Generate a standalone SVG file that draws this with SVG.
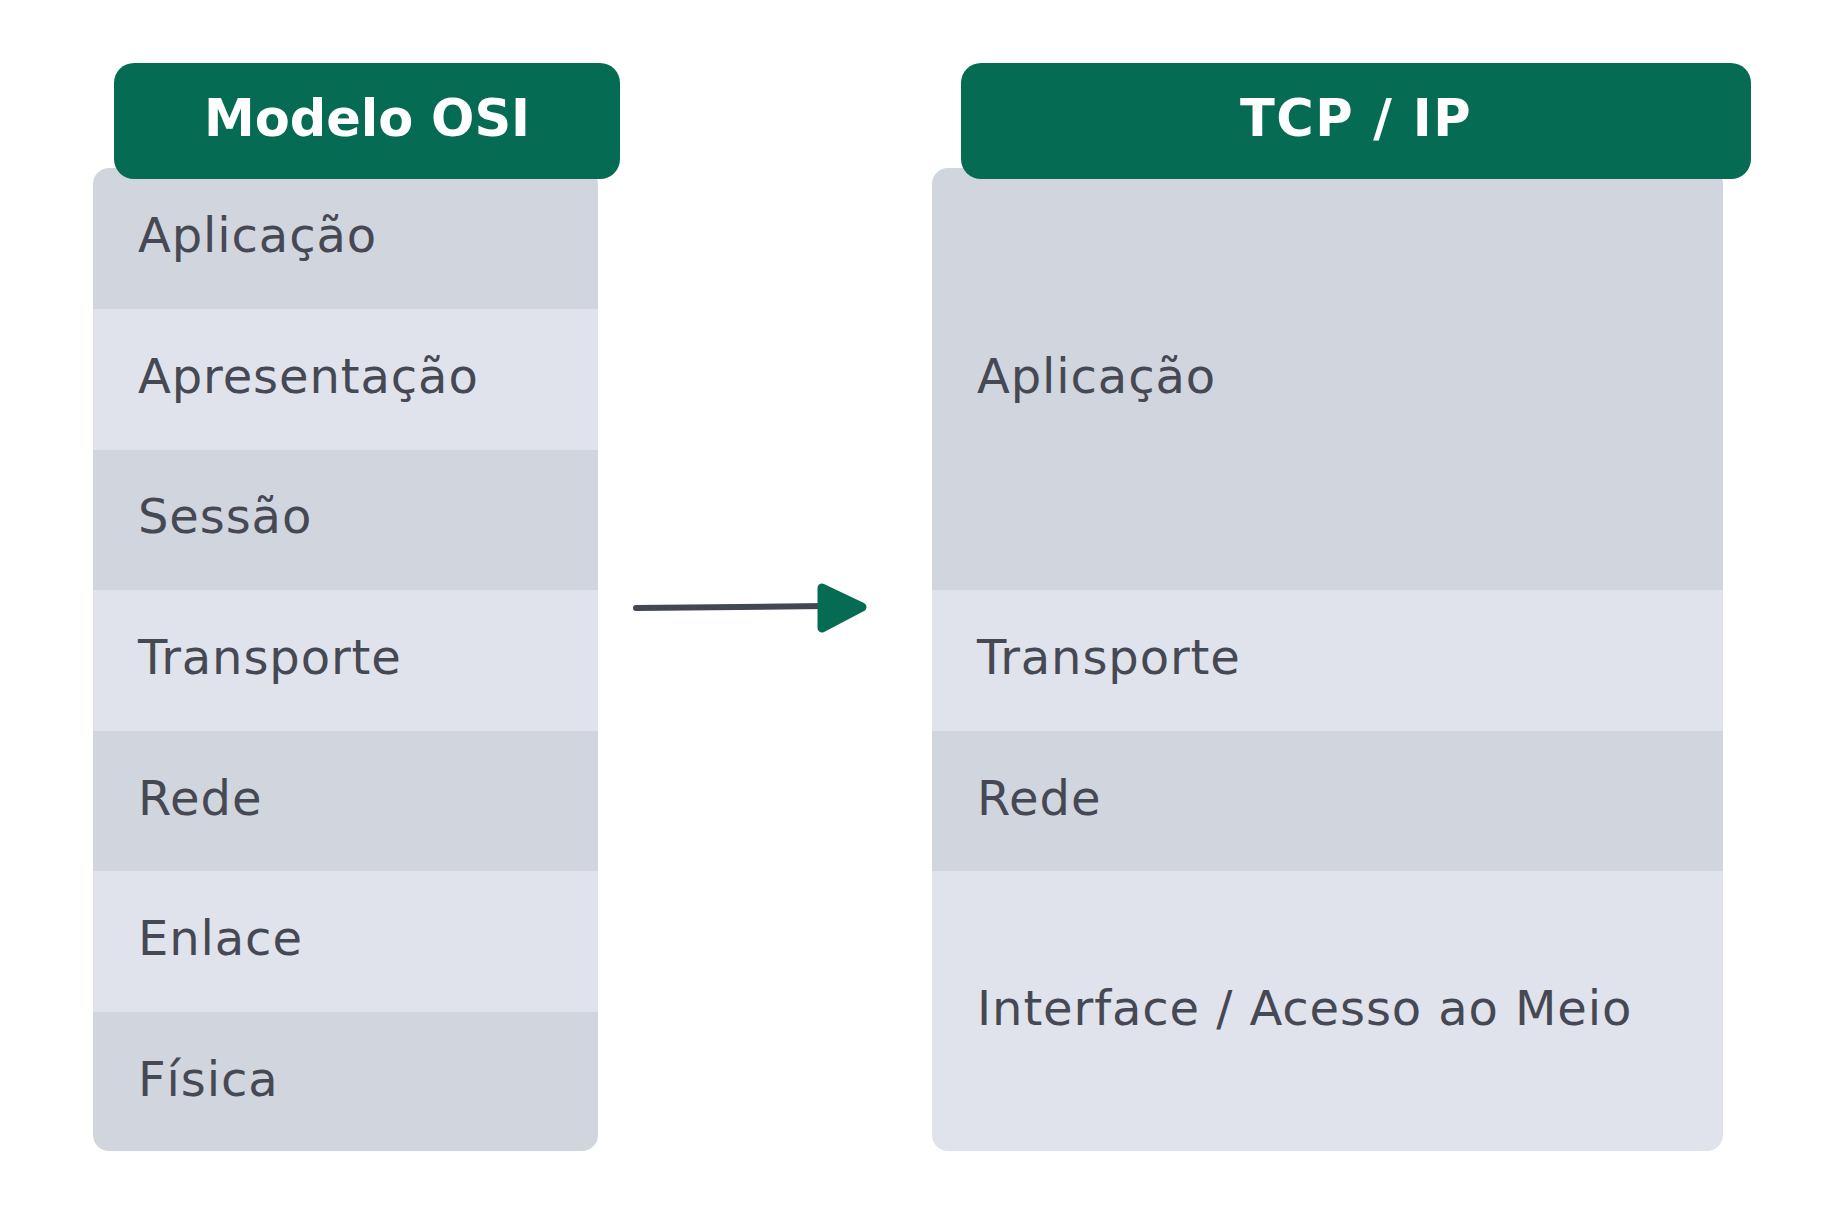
<svg xmlns="http://www.w3.org/2000/svg" width="1845" height="1215" viewBox="0 0 1845 1215">
<style>
.dark{fill:#D1D5DE}
.light{fill:#E0E3EB}
.hdr{fill:#056C53}
.lbl{font-family:"DejaVu Sans",sans-serif;font-size:48px;fill:#464953;letter-spacing:0.9px}
.ttl{font-family:"DejaVu Sans",sans-serif;font-size:51px;font-weight:bold;fill:#FFFFFF;text-anchor:middle}
</style>
<defs>
<clipPath id="clipL"><rect x="93" y="168" width="505" height="983" rx="16"/></clipPath>
<clipPath id="clipR"><rect x="932" y="168" width="791" height="983" rx="16"/></clipPath>
</defs>
<rect width="1845" height="1215" fill="#FFFFFF"/>
<g id="osi">
<g clip-path="url(#clipL)">
<rect class="dark" x="93" y="168" width="505" height="141"/>
<rect class="light" x="93" y="309" width="505" height="141"/>
<rect class="dark" x="93" y="450" width="505" height="140"/>
<rect class="light" x="93" y="590" width="505" height="141"/>
<rect class="dark" x="93" y="731" width="505" height="140"/>
<rect class="light" x="93" y="871" width="505" height="141"/>
<rect class="dark" x="93" y="1012" width="505" height="139"/>
</g>
<text class="lbl" x="138" y="252">Aplicação</text>
<text class="lbl" x="138" y="393">Apresentação</text>
<text class="lbl" x="138" y="533">Sessão</text>
<text class="lbl" x="138" y="674">Transporte</text>
<text class="lbl" x="138" y="815">Rede</text>
<text class="lbl" x="138" y="955">Enlace</text>
<text class="lbl" x="138" y="1096">Física</text>
<rect class="hdr" x="114" y="63" width="506" height="116" rx="20"/>
<text class="ttl" x="367" y="136">Modelo OSI</text>
</g>
<g id="tcpip">
<g clip-path="url(#clipR)">
<rect class="dark" x="932" y="168" width="791" height="422"/>
<rect class="light" x="932" y="590" width="791" height="141"/>
<rect class="dark" x="932" y="731" width="791" height="140"/>
<rect class="light" x="932" y="871" width="791" height="280"/>
</g>
<text class="lbl" x="977" y="393">Aplicação</text>
<text class="lbl" x="977" y="674">Transporte</text>
<text class="lbl" x="977" y="815">Rede</text>
<text class="lbl" x="977" y="1025">Interface / Acesso ao Meio</text>
<rect class="hdr" x="961" y="63" width="790" height="116" rx="20"/>
<text class="ttl" x="1356" y="136" letter-spacing="1.5">TCP / IP</text>
</g>
<g id="connectors">
<line x1="636" y1="608" x2="826" y2="606" stroke="#434752" stroke-width="6" stroke-linecap="round"/>
<path d="M822 588 L862 607 L822 628 Z" fill="#056C53" stroke="#056C53" stroke-width="9" stroke-linejoin="round"/>
</g>
</svg>
